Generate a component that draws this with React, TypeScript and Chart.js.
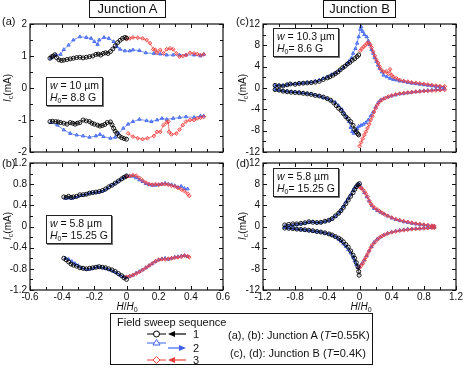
import React, { useEffect, useRef } from "react";
import { Chart, registerables } from "chart.js";
Chart.register(...registerables);
Chart.defaults.font.family = "'Liberation Sans', Arial, sans-serif";

type P = [number, number][];

// ---------- Panel (a): Junction A, w = 10 um ----------
const aBlackUp: P = [[-0.476,0.93],[-0.465,0.98],[-0.455,1.0],[-0.445,1.04],[-0.435,0.95],[-0.42,0.88],[-0.405,0.86],[-0.39,0.87],[-0.37,0.89],[-0.35,0.91],[-0.33,0.93],[-0.31,0.95],[-0.29,0.96],[-0.27,0.94],[-0.25,0.96],[-0.23,0.98],[-0.21,1.0],[-0.19,1.05],[-0.175,1.06],[-0.16,1.03],[-0.145,1.08],[-0.13,1.1],[-0.115,1.08],[-0.1,1.14],[-0.085,1.22],[-0.07,1.32],[-0.055,1.42],[-0.04,1.49],[-0.025,1.55],[-0.01,1.58],[0,1.56]];
const aBlueUp: P = [[-0.47,0.93],[-0.44,1.03],[-0.41,1.05],[-0.39,1.2],[-0.36,1.34],[-0.33,1.5],[-0.29,1.6],[-0.25,1.58],[-0.22,1.55],[-0.2,1.45],[-0.18,1.36],[-0.17,1.5],[-0.14,1.58],[-0.11,1.55],[-0.08,1.45],[-0.06,1.29],[-0.04,1.21],[-0.01,1.16],[0.02,1.16],[0.04,1.19],[0.08,1.17],[0.12,1.1],[0.17,1.08],[0.21,1.06],[0.25,1.03],[0.29,1.03],[0.33,1.03],[0.37,1.03],[0.42,1.03],[0.46,1.0],[0.48,1.05]];
const aRedUp: P = [[0,1.53],[0.02,1.55],[0.04,1.58],[0.07,1.57],[0.1,1.55],[0.125,1.5],[0.146,1.4],[0.167,1.21],[0.18,1.19],[0.19,1.1],[0.21,1.19],[0.23,1.08],[0.25,1.21],[0.27,1.24],[0.29,1.21],[0.31,1.08],[0.33,0.98],[0.35,1.0],[0.37,1.03],[0.395,1.1],[0.42,1.08],[0.44,1.06],[0.46,1.03],[0.48,1.05]];
const aBlackLow: P = [[-0.476,-1.05],[-0.46,-1.04],[-0.44,-1.05],[-0.425,-1.06],[-0.41,-1.08],[-0.39,-1.1],[-0.37,-1.13],[-0.35,-1.08],[-0.335,-1.1],[-0.32,-1.13],[-0.305,-1.1],[-0.29,-1.08],[-0.27,-1.0],[-0.25,-1.03],[-0.23,-1.05],[-0.215,-1.1],[-0.2,-1.13],[-0.18,-1.16],[-0.165,-1.19],[-0.15,-1.17],[-0.135,-1.14],[-0.12,-1.08],[-0.1,-1.06],[-0.09,-1.15],[-0.08,-1.26],[-0.07,-1.35],[-0.06,-1.42],[-0.045,-1.5],[-0.03,-1.55],[-0.015,-1.58],[0,-1.6]];
const aBlueLow: P = [[-0.47,-1.08],[-0.43,-1.16],[-0.39,-1.31],[-0.35,-1.42],[-0.31,-1.47],[-0.27,-1.5],[-0.23,-1.54],[-0.19,-1.5],[-0.165,-1.45],[-0.144,-1.52],[-0.1,-1.57],[-0.07,-1.54],[-0.05,-1.42],[-0.02,-1.26],[0.01,-1.13],[0.04,-1.05],[0.08,-0.98],[0.125,-1.02],[0.155,-1.05],[0.19,-1.0],[0.22,-0.95],[0.25,-0.98],[0.29,-0.95],[0.33,-0.92],[0.37,-0.9],[0.42,-0.92],[0.46,-0.875],[0.48,-0.875]];
const aRedLow: P = [[0.01,-1.42],[0.04,-1.52],[0.07,-1.57],[0.1,-1.6],[0.13,-1.57],[0.17,-1.5],[0.19,-1.37],[0.21,-1.37],[0.23,-1.16],[0.25,-1.08],[0.26,-1.05],[0.265,-1.37],[0.28,-1.45],[0.31,-1.42],[0.33,-1.3],[0.35,-1.16],[0.37,-1.05],[0.395,-1.0],[0.42,-1.0],[0.44,-0.95],[0.46,-0.93],[0.48,-0.9]];

// ---------- Panel (b): Junction A, w = 5.8 um ----------
const bBlackUp: P = [[-0.39,0.56],[-0.375,0.55],[-0.36,0.57],[-0.345,0.55],[-0.33,0.56],[-0.31,0.57],[-0.29,0.6],[-0.27,0.6],[-0.25,0.61],[-0.23,0.63],[-0.21,0.64],[-0.19,0.65],[-0.17,0.66],[-0.15,0.68],[-0.13,0.71],[-0.11,0.75],[-0.09,0.78],[-0.07,0.82],[-0.05,0.86],[-0.03,0.9],[-0.015,0.93],[0,0.955]];
const bBlueUp: P = [[-0.38,0.53],[-0.36,0.54],[-0.34,0.53],[-0.32,0.55],[-0.3,0.57],[-0.28,0.59],[-0.26,0.6],[-0.24,0.62],[-0.22,0.64],[-0.2,0.64],[-0.18,0.65],[-0.16,0.66],[-0.14,0.68],[-0.12,0.72],[-0.1,0.77],[-0.08,0.8],[-0.06,0.84],[-0.04,0.88],[-0.02,0.92],[0,0.95],[0.02,0.955],[0.04,0.95],[0.06,0.92],[0.08,0.88],[0.1,0.85],[0.12,0.81],[0.14,0.79],[0.16,0.78],[0.18,0.78],[0.2,0.79],[0.22,0.8],[0.24,0.82],[0.26,0.8],[0.28,0.79],[0.3,0.77],[0.32,0.74],[0.34,0.76],[0.36,0.72],[0.38,0.71]];
const bRedUp: P = [[0,0.94],[0.02,0.95],[0.04,0.97],[0.06,0.96],[0.08,0.92],[0.1,0.87],[0.12,0.83],[0.14,0.8],[0.16,0.79],[0.18,0.8],[0.2,0.79],[0.22,0.8],[0.24,0.8],[0.26,0.79],[0.28,0.77],[0.3,0.76],[0.32,0.73],[0.34,0.7],[0.36,0.67],[0.38,0.62],[0.39,0.58]];
const bBlackLow: P = [[-0.39,-0.6],[-0.375,-0.63],[-0.36,-0.67],[-0.345,-0.71],[-0.33,-0.73],[-0.31,-0.75],[-0.29,-0.78],[-0.27,-0.79],[-0.25,-0.8],[-0.23,-0.79],[-0.21,-0.78],[-0.19,-0.77],[-0.17,-0.76],[-0.15,-0.77],[-0.13,-0.78],[-0.11,-0.8],[-0.09,-0.82],[-0.07,-0.85],[-0.05,-0.89],[-0.03,-0.93],[-0.015,-0.97],[0,-1.0]];
const bBlueLow: P = [[-0.38,-0.6],[-0.36,-0.62],[-0.34,-0.66],[-0.32,-0.7],[-0.3,-0.74],[-0.28,-0.78],[-0.26,-0.8],[-0.24,-0.81],[-0.22,-0.8],[-0.2,-0.78],[-0.18,-0.76],[-0.16,-0.77],[-0.14,-0.78],[-0.12,-0.8],[-0.1,-0.82],[-0.08,-0.85],[-0.06,-0.88],[-0.04,-0.92],[-0.02,-0.95],[0,-0.96],[0.02,-0.94],[0.04,-0.92],[0.06,-0.88],[0.08,-0.85],[0.1,-0.82],[0.12,-0.78],[0.14,-0.74],[0.16,-0.7],[0.18,-0.66],[0.2,-0.63],[0.22,-0.61],[0.24,-0.6],[0.26,-0.62],[0.28,-0.6],[0.3,-0.58],[0.32,-0.57],[0.34,-0.56],[0.36,-0.55],[0.38,-0.57]];
const bRedLow: P = [[0,-0.95],[0.02,-0.94],[0.04,-0.92],[0.06,-0.89],[0.08,-0.86],[0.1,-0.82],[0.12,-0.78],[0.14,-0.74],[0.16,-0.7],[0.18,-0.66],[0.2,-0.63],[0.22,-0.62],[0.24,-0.62],[0.26,-0.61],[0.28,-0.6],[0.3,-0.59],[0.32,-0.58],[0.34,-0.57],[0.36,-0.55],[0.38,-0.56],[0.39,-0.58]];

// ---------- Panel (c): Junction B, w = 10.3 um ----------
const cBlackUp: P = [[-1.05,0.5],[-1.0,0.4],[-0.95,0.38],[-0.9,0.6],[-0.86,0.75],[-0.8,0.7],[-0.75,0.85],[-0.7,0.9],[-0.65,0.95],[-0.6,1.0],[-0.55,1.1],[-0.5,1.25],[-0.45,1.6],[-0.4,1.9],[-0.37,2.1],[-0.33,2.4],[-0.3,2.7],[-0.27,3.0],[-0.24,3.4],[-0.21,3.8],[-0.18,4.1],[-0.15,4.5],[-0.12,4.8],[-0.09,5.2],[-0.06,5.5],[-0.03,5.9],[-0.01,6.2]];
const cBlueUp: P = [[-1.05,0.4],[-1.0,0.5],[-0.95,0.45],[-0.9,0.6],[-0.85,0.75],[-0.8,0.8],[-0.75,0.85],[-0.7,0.9],[-0.65,1.0],[-0.6,1.1],[-0.55,1.3],[-0.5,1.5],[-0.45,1.8],[-0.4,2.1],[-0.35,2.5],[-0.3,2.8],[-0.25,3.3],[-0.2,3.8],[-0.16,4.4],[-0.13,5.0],[-0.1,5.6],[-0.08,6.5],[-0.05,7.4],[-0.03,8.4],[-0.01,9.6],[0.01,11.0],[0.02,11.5],[0.04,10.6],[0.06,10.0],[0.09,9.6],[0.11,8.8],[0.13,8.1],[0.15,7.2],[0.17,6.5],[0.19,5.7],[0.21,5.0],[0.23,4.3],[0.25,3.7],[0.28,3.0],[0.3,2.4],[0.34,2.1],[0.38,1.8],[0.42,1.6],[0.46,1.5],[0.5,1.3],[0.55,1.2],[0.6,1.0],[0.65,0.9],[0.7,0.8],[0.75,0.7],[0.8,0.6],[0.85,0.5],[0.9,0.4],[0.95,0.3],[1.0,0.2],[1.05,0.1]];
const cRedUp: P = [[0.01,7.0],[0.03,7.4],[0.05,7.7],[0.07,8.0],[0.09,8.3],[0.11,8.5],[0.13,8.2],[0.15,7.6],[0.17,6.8],[0.19,6.0],[0.21,5.3],[0.23,4.7],[0.25,4.0],[0.27,3.4],[0.3,3.0],[0.33,3.1],[0.36,2.7],[0.38,3.5],[0.4,2.4],[0.42,2.1],[0.46,1.8],[0.5,1.5],[0.55,1.3],[0.6,1.2],[0.65,1.05],[0.7,0.95],[0.75,0.85],[0.8,0.75],[0.85,0.65],[0.9,0.55],[0.95,0.45],[1.0,0.35],[1.06,0.3]];
const cBlackLow: P = [[-1.05,-0.3],[-1.0,-0.4],[-0.95,-0.6],[-0.9,-0.7],[-0.85,-0.8],[-0.8,-0.85],[-0.75,-0.9],[-0.7,-1.0],[-0.65,-1.1],[-0.6,-1.2],[-0.55,-1.4],[-0.5,-1.5],[-0.45,-1.7],[-0.4,-2.0],[-0.36,-2.3],[-0.32,-2.8],[-0.29,-3.3],[-0.26,-3.8],[-0.23,-4.2],[-0.2,-4.8],[-0.17,-5.4],[-0.14,-5.8],[-0.11,-6.3],[-0.08,-7.0],[-0.06,-7.8],[-0.04,-8.2],[-0.02,-8.6],[-0.01,-8.8]];
const cBlueLow: P = [[-1.05,-0.3],[-1.0,-0.45],[-0.95,-0.55],[-0.9,-0.6],[-0.85,-0.7],[-0.8,-0.75],[-0.75,-0.8],[-0.7,-0.9],[-0.65,-1.0],[-0.6,-1.1],[-0.55,-1.3],[-0.5,-1.5],[-0.45,-1.8],[-0.4,-2.0],[-0.35,-2.4],[-0.3,-2.7],[-0.26,-3.3],[-0.22,-4.0],[-0.19,-4.8],[-0.16,-5.5],[-0.13,-6.3],[-0.11,-7.4],[-0.09,-8.2],[-0.07,-8.5],[-0.05,-8.0],[-0.03,-7.6],[-0.01,-7.2],[0.02,-7.0],[0.05,-6.8],[0.08,-6.5],[0.11,-6.0],[0.14,-5.2],[0.17,-4.5],[0.2,-3.6],[0.23,-2.8],[0.26,-2.3],[0.3,-2.0],[0.35,-1.7],[0.4,-1.5],[0.45,-1.3],[0.5,-1.1],[0.55,-1.0],[0.6,-0.9],[0.65,-0.8],[0.7,-0.7],[0.75,-0.6],[0.8,-0.5],[0.85,-0.45],[0.9,-0.4],[0.95,-0.3],[1.0,-0.25],[1.05,-0.2]];
const cRedLow: P = [[0.0,-10.9],[0.02,-10.2],[0.04,-9.5],[0.06,-8.8],[0.08,-8.2],[0.1,-7.5],[0.12,-6.8],[0.14,-6.0],[0.16,-5.3],[0.18,-4.5],[0.2,-3.8],[0.22,-3.2],[0.25,-2.6],[0.28,-2.2],[0.32,-1.9],[0.36,-1.6],[0.4,-1.4],[0.45,-1.2],[0.5,-1.05],[0.55,-0.95],[0.6,-0.85],[0.65,-0.8],[0.7,-0.7],[0.75,-0.65],[0.8,-0.6],[0.85,-0.55],[0.9,-0.5],[0.95,-0.45],[1.0,-0.4],[1.06,-0.35]];

// ---------- Panel (d): Junction B, w = 5.8 um ----------
const dBlackUp: P = [[-0.93,0.3],[-0.88,0.4],[-0.83,0.5],[-0.78,0.5],[-0.73,0.6],[-0.68,0.7],[-0.63,0.9],[-0.58,0.8],[-0.53,0.75],[-0.48,0.8],[-0.43,1.0],[-0.38,1.2],[-0.34,1.5],[-0.3,2.0],[-0.26,2.5],[-0.23,3.0],[-0.2,3.6],[-0.17,4.3],[-0.14,5.0],[-0.11,5.7],[-0.08,6.4],[-0.06,7.0],[-0.04,7.5],[-0.02,7.9],[0,8.1]];
const dBlueUp: P = [[-0.93,0.0],[-0.88,0.1],[-0.83,0.2],[-0.78,0.35],[-0.73,0.45],[-0.68,0.6],[-0.63,0.8],[-0.58,0.9],[-0.53,0.7],[-0.48,0.7],[-0.43,0.9],[-0.38,1.1],[-0.34,1.4],[-0.3,1.9],[-0.26,2.5],[-0.23,3.1],[-0.2,3.8],[-0.17,4.6],[-0.14,5.3],[-0.11,6.0],[-0.08,6.8],[-0.06,7.3],[-0.04,7.6],[-0.02,8.0],[0.0,7.9],[0.03,7.2],[0.06,6.4],[0.09,5.6],[0.12,4.8],[0.15,4.0],[0.18,3.4],[0.22,3.0],[0.26,2.7],[0.3,2.4],[0.35,2.0],[0.4,1.6],[0.45,1.3],[0.5,1.1],[0.55,0.9],[0.6,0.75],[0.65,0.6],[0.7,0.5],[0.75,0.4],[0.8,0.3],[0.85,0.2],[0.9,0.1],[0.93,0.05]];
const dRedUp: P = [[0.0,7.5],[0.02,7.3],[0.04,7.0],[0.06,6.6],[0.08,6.2],[0.1,5.6],[0.12,4.9],[0.14,4.3],[0.16,3.9],[0.19,3.5],[0.22,3.2],[0.25,2.9],[0.28,2.6],[0.31,2.3],[0.35,2.0],[0.4,1.7],[0.45,1.4],[0.5,1.2],[0.55,1.0],[0.6,0.85],[0.65,0.7],[0.7,0.55],[0.75,0.45],[0.8,0.35],[0.85,0.25],[0.9,0.15],[0.93,0.1]];
const dBlackLow: P = [[-0.93,-0.3],[-0.88,-0.35],[-0.83,-0.4],[-0.78,-0.5],[-0.73,-0.55],[-0.68,-0.6],[-0.63,-0.7],[-0.58,-0.8],[-0.53,-0.95],[-0.48,-1.05],[-0.43,-1.2],[-0.38,-1.4],[-0.34,-1.6],[-0.3,-1.9],[-0.26,-2.2],[-0.23,-2.5],[-0.2,-2.9],[-0.17,-3.4],[-0.14,-3.9],[-0.11,-4.6],[-0.08,-5.4],[-0.06,-6.0],[-0.04,-6.8],[-0.02,-7.6],[-0.01,-8.5],[-0.005,-9.2]];
const dBlueLow: P = [[-0.93,-0.2],[-0.88,-0.3],[-0.83,-0.4],[-0.78,-0.5],[-0.73,-0.6],[-0.68,-0.7],[-0.63,-0.8],[-0.58,-0.9],[-0.53,-1.0],[-0.48,-1.1],[-0.43,-1.25],[-0.38,-1.45],[-0.34,-1.7],[-0.3,-2.0],[-0.26,-2.4],[-0.23,-2.8],[-0.2,-3.3],[-0.17,-3.8],[-0.14,-4.4],[-0.11,-5.0],[-0.08,-5.8],[-0.06,-6.5],[-0.04,-7.2],[-0.02,-7.8],[0.0,-7.6],[0.03,-7.0],[0.06,-6.3],[0.09,-5.5],[0.12,-4.6],[0.15,-3.8],[0.18,-3.0],[0.22,-2.4],[0.26,-2.0],[0.3,-1.6],[0.35,-1.3],[0.4,-1.05],[0.45,-0.85],[0.5,-0.7],[0.55,-0.6],[0.6,-0.5],[0.65,-0.45],[0.7,-0.4],[0.75,-0.35],[0.8,-0.3],[0.85,-0.25],[0.9,-0.2],[0.93,-0.2]];
const dRedLow: P = [[0.0,-7.8],[0.02,-7.4],[0.04,-7.0],[0.06,-6.4],[0.08,-5.8],[0.1,-5.2],[0.12,-4.6],[0.14,-4.0],[0.16,-3.5],[0.19,-3.0],[0.22,-2.5],[0.25,-2.1],[0.28,-1.8],[0.31,-1.6],[0.35,-1.3],[0.4,-1.1],[0.45,-0.95],[0.5,-0.8],[0.55,-0.7],[0.6,-0.6],[0.65,-0.5],[0.7,-0.45],[0.75,-0.4],[0.8,-0.35],[0.85,-0.3],[0.9,-0.25],[0.93,-0.25]];

// ---------- Tick labels / positions ----------
const xLabelsA = [-0.6, -0.4, -0.2, 0, 0.2, 0.4, 0.6];
const xMinorA = [-0.5, -0.3, -0.1, 0.1, 0.3, 0.5];
const xLabelsB = [-1.2, -0.8, -0.4, 0, 0.4, 0.8, 1.2];
const xMinorB = [-1.0, -0.6, -0.2, 0.2, 0.6, 1.0];
const yLabelsA = [-2, -1, 0, 1, 2];
const yMinorA = [-1.5, -0.5, 0.5, 1.5];
const yLabelsAb = [-1.2, -0.8, -0.4, 0, 0.4, 0.8, 1.2];
const yMinorAb = [-1.0, -0.6, -0.2, 0.2, 0.6, 1.0];
const yLabelsB = [-12, -8, -4, 0, 4, 8, 12];
const yMinorB = [-10, -6, -2, 2, 6, 10];

const BLACK = "#000000";
const BLUE = "#3d63ee";
const RED = "#ee3d3d";

type Series = { data: P; kind: "black" | "blue" | "red" };
type Area = { l: number; t: number; r: number; b: number };

const FONT = "'Liberation Sans', Arial, Helvetica, sans-serif";

function fmt(v: number) {
  const s = Number(v.toFixed(2)).toString();
  return s === "-0" ? "0" : s;
}

function makeDataset(s: Series) {
  const base = { data: s.data.map(([x, y]) => ({ x, y })), showLine: true, borderWidth: 0.9, pointBorderWidth: 0.9 } as any;
  if (s.kind === "black") {
    return { ...base, borderColor: "rgba(0,0,0,0.85)", pointStyle: "circle", pointRadius: 2, pointBorderColor: BLACK, pointBackgroundColor: "rgba(255,255,255,0)" };
  }
  if (s.kind === "blue") {
    return { ...base, borderColor: "rgba(61,99,238,0.75)", pointStyle: "triangle", pointRadius: 1.9, pointBorderColor: BLUE, pointBackgroundColor: "rgba(61,99,238,0.45)" };
  }
  return { ...base, borderColor: "rgba(238,61,61,0.75)", pointStyle: "rectRot", pointRadius: 1.9, pointBorderColor: RED, pointBackgroundColor: "rgba(238,61,61,0.2)" };
}

type PanelProps = {
  area: Area;
  xr: [number, number];
  yr: [number, number];
  xLabels: number[];
  xMinor: number[];
  yLabels: number[];
  yMinor: number[];
  showX: boolean;
  series: Series[];
};

const PAD = { l: 32, t: 8, r: 14, b: 16 };

function Panel(p: PanelProps) {
  const ref = useRef<HTMLCanvasElement>(null);
  const w = p.area.r - p.area.l + PAD.l + PAD.r;
  const h = p.area.b - p.area.t + PAD.t + PAD.b;
  useEffect(() => {
    const frame = {
      id: "frame",
      afterDraw(chart: any) {
        const { ctx, chartArea: a, scales } = chart;
        const xs = scales.x, ys = scales.y;
        ctx.save();
        ctx.strokeStyle = "#111";
        ctx.lineWidth = 1.2;
        ctx.strokeRect(a.left, a.top, a.right - a.left, a.bottom - a.top);
        ctx.lineWidth = 1;
        const tick = (vals: number[], len: number, axis: "x" | "y") => {
          vals.forEach((v) => {
            if (axis === "x") {
              const px = Math.round(xs.getPixelForValue(v)) + 0.5;
              ctx.beginPath();
              ctx.moveTo(px, a.bottom); ctx.lineTo(px, a.bottom - len);
              ctx.moveTo(px, a.top); ctx.lineTo(px, a.top + len);
              ctx.stroke();
            } else {
              const py = Math.round(ys.getPixelForValue(v)) + 0.5;
              ctx.beginPath();
              ctx.moveTo(a.left, py); ctx.lineTo(a.left + len, py);
              ctx.moveTo(a.right, py); ctx.lineTo(a.right - len, py);
              ctx.stroke();
            }
          });
        };
        tick(p.xLabels, 4, "x");
        tick(p.xMinor, 3, "x");
        tick(p.yLabels, 4, "y");
        tick(p.yMinor, 3, "y");
        ctx.fillStyle = "#111";
        ctx.font = `10px ${FONT}`;
        ctx.textAlign = "right";
        ctx.textBaseline = "middle";
        p.yLabels.forEach((v) => ctx.fillText(fmt(v), a.left - 3, ys.getPixelForValue(v)));
        if (p.showX) {
          ctx.textAlign = "center";
          ctx.textBaseline = "top";
          p.xLabels.forEach((v) => ctx.fillText(fmt(v), xs.getPixelForValue(v), a.bottom + 2));
        }
        ctx.restore();
      },
    };
    const chart = new Chart(ref.current as HTMLCanvasElement, {
      type: "scatter",
      data: { datasets: p.series.map(makeDataset) },
      options: {
        animation: false,
        responsive: false,
        devicePixelRatio: 1,
        layout: { padding: { left: PAD.l, top: PAD.t, right: PAD.r, bottom: PAD.b } },
        plugins: { legend: { display: false }, tooltip: { enabled: false } },
        scales: {
          x: { type: "linear", display: false, min: p.xr[0], max: p.xr[1] },
          y: { type: "linear", display: false, min: p.yr[0], max: p.yr[1] },
        },
      } as any,
      plugins: [frame],
    });
    return () => chart.destroy();
  }, []);
  return (
    <canvas
      ref={ref}
      width={w}
      height={h}
      style={{ position: "absolute", left: p.area.l - PAD.l, top: p.area.t - PAD.t, width: w, height: h }}
    />
  );
}

const txt: React.CSSProperties = { position: "absolute", fontFamily: FONT, color: "#111", whiteSpace: "nowrap", lineHeight: 1 };
const subS: React.CSSProperties = { fontSize: 7, verticalAlign: "baseline", position: "relative", top: 2 };

function YTitle({ x, y }: { x: number; y: number }) {
  return (
    <div style={{ ...txt, left: x, top: y, fontSize: 10, transform: "translate(-50%,-50%) rotate(-90deg)" }}>
      <i>I</i><span style={subS}>c</span>(mA)
    </div>
  );
}

function XTitle({ x, y }: { x: number; y: number }) {
  return (
    <div style={{ ...txt, left: x, top: y, fontSize: 10, transform: "translate(-50%,0)" }}>
      <i>H</i>/<i>H</i><span style={subS}>0</span>
    </div>
  );
}

function InfoBox({ x, y, l1, l2 }: { x: number; y: number; l1: string; l2: string }) {
  return (
    <div style={{ ...txt, left: x, top: y, border: "1px solid #222", boxShadow: "1px 1px 0 #777", background: "#fff", fontSize: 10.5, padding: "2px 3px 1px 3px" }}>
      <div style={{ lineHeight: "11px" }}><i>w</i> = {l1}</div>
      <div style={{ lineHeight: "11px", marginTop: 1 }}><i>H</i><span style={subS}>0</span>= {l2}</div>
    </div>
  );
}

function Legend() {
  const f = { fontFamily: FONT, fontSize: 11, fill: "#111" } as any;
  return (
    <svg width={264} height={53} style={{ position: "absolute", left: 110, top: 313 }}>
      <rect x={0.5} y={0.5} width={262} height={51} fill="#fff" stroke="#111" strokeWidth={1} />
      <text x={7} y={13} {...f}>Field sweep sequence</text>
      <line x1={37} y1={21} x2={56} y2={21} stroke={BLACK} strokeWidth={1} />
      <circle cx={46.5} cy={21} r={3} fill="#fff" stroke={BLACK} strokeWidth={1} />
      <line x1={62} y1={21} x2={76} y2={21} stroke={BLACK} strokeWidth={1.2} />
      <polygon points="58,21 65,18 65,24" fill={BLACK} />
      <text x={83} y={25} {...f}>1</text>
      <line x1={37} y1={30} x2={56} y2={30} stroke={BLUE} strokeWidth={1} />
      <polygon points="46.5,26.5 50,32 43,32" fill="#fff" stroke={BLUE} strokeWidth={1} />
      <line x1={58} y1={35} x2={72} y2={35} stroke={BLUE} strokeWidth={1.2} />
      <polygon points="76,35 69,32 69,38" fill={BLUE} />
      <text x={83} y={39} {...f}>2</text>
      <line x1={37} y1={47} x2={56} y2={47} stroke={RED} strokeWidth={1} />
      <polygon points="46.5,43.5 50,47 46.5,50.5 43,47" fill="#fff" stroke={RED} strokeWidth={1} />
      <line x1={62} y1={47} x2={76} y2={47} stroke={RED} strokeWidth={1.2} />
      <polygon points="58,47 65,44 65,50" fill={RED} />
      <text x={83} y={51} {...f}>3</text>
      <text x={118} y={26} {...f}>(a), (b): Junction A (<tspan fontStyle="italic">T</tspan>=0.55K)</text>
      <text x={120} y={44} {...f}>(c), (d): Junction B (<tspan fontStyle="italic">T</tspan>=0.4K)</text>
    </svg>
  );
}

export default function App() {
  const areaA: Area = { l: 30, t: 24, r: 223, b: 152 };
  const areaB: Area = { l: 30, t: 163, r: 223, b: 290 };
  const areaC: Area = { l: 263, t: 24, r: 456, b: 152 };
  const areaD: Area = { l: 263, t: 163, r: 456, b: 290 };
  return (
    <div style={{ position: "absolute", left: 0, top: 0, width: 463, height: 368, background: "#fff", overflow: "hidden" }}>
      <Panel area={areaA} xr={[-0.6, 0.6]} yr={[-2, 2]} xLabels={xLabelsA} xMinor={xMinorA} yLabels={yLabelsA} yMinor={yMinorA} showX={false}
        series={[{ data: aBlackUp, kind: "black" }, { data: aBlackLow, kind: "black" }, { data: aRedUp, kind: "red" }, { data: aRedLow, kind: "red" }, { data: aBlueUp, kind: "blue" }, { data: aBlueLow, kind: "blue" }]} />
      <Panel area={areaB} xr={[-0.6, 0.6]} yr={[-1.2, 1.2]} xLabels={xLabelsA} xMinor={xMinorA} yLabels={yLabelsAb} yMinor={yMinorAb} showX={true}
        series={[{ data: bBlackUp, kind: "black" }, { data: bBlackLow, kind: "black" }, { data: bRedUp, kind: "red" }, { data: bRedLow, kind: "red" }, { data: bBlueUp, kind: "blue" }, { data: bBlueLow, kind: "blue" }]} />
      <Panel area={areaC} xr={[-1.2, 1.2]} yr={[-12, 12]} xLabels={xLabelsB} xMinor={xMinorB} yLabels={yLabelsB} yMinor={yMinorB} showX={false}
        series={[{ data: cBlackUp, kind: "black" }, { data: cBlackLow, kind: "black" }, { data: cRedUp, kind: "red" }, { data: cRedLow, kind: "red" }, { data: cBlueUp, kind: "blue" }, { data: cBlueLow, kind: "blue" }]} />
      <Panel area={areaD} xr={[-1.2, 1.2]} yr={[-12, 12]} xLabels={xLabelsB} xMinor={xMinorB} yLabels={yLabelsB} yMinor={yMinorB} showX={true}
        series={[{ data: dBlackUp, kind: "black" }, { data: dBlackLow, kind: "black" }, { data: dRedUp, kind: "red" }, { data: dRedLow, kind: "red" }, { data: dBlueUp, kind: "blue" }, { data: dBlueLow, kind: "blue" }]} />

      <div style={{ ...txt, left: 89, top: 0, width: 77, height: 18, border: "1px solid #111", boxSizing: "border-box", fontSize: 13, textAlign: "center", lineHeight: "16px" }}>Junction A</div>
      <div style={{ ...txt, left: 323, top: 0, width: 73, height: 18, border: "1px solid #111", boxSizing: "border-box", fontSize: 13, textAlign: "center", lineHeight: "16px" }}>Junction B</div>

      <div style={{ ...txt, left: 2, top: 16, fontSize: 11 }}>(a)</div>
      <div style={{ ...txt, left: 2, top: 158, fontSize: 11 }}>(b)</div>
      <div style={{ ...txt, left: 236, top: 16, fontSize: 11 }}>(c)</div>
      <div style={{ ...txt, left: 236, top: 158, fontSize: 11 }}>(d)</div>

      <YTitle x={8} y={88} />
      <YTitle x={8} y={226} />
      <YTitle x={243} y={88} />
      <YTitle x={243} y={226} />
      <XTitle x={127} y={302} />
      <XTitle x={361} y={302} />

      <InfoBox x={46} y={77} l1="10 µm" l2="8.8 G" />
      <InfoBox x={46} y={215} l1="5.8 µm" l2="15.25 G" />
      <InfoBox x={273} y={28} l1="10.3 µm" l2="8.6 G" />
      <InfoBox x={273} y={168} l1="5.8 µm" l2="15.25 G" />

      <Legend />
    </div>
  );
}
